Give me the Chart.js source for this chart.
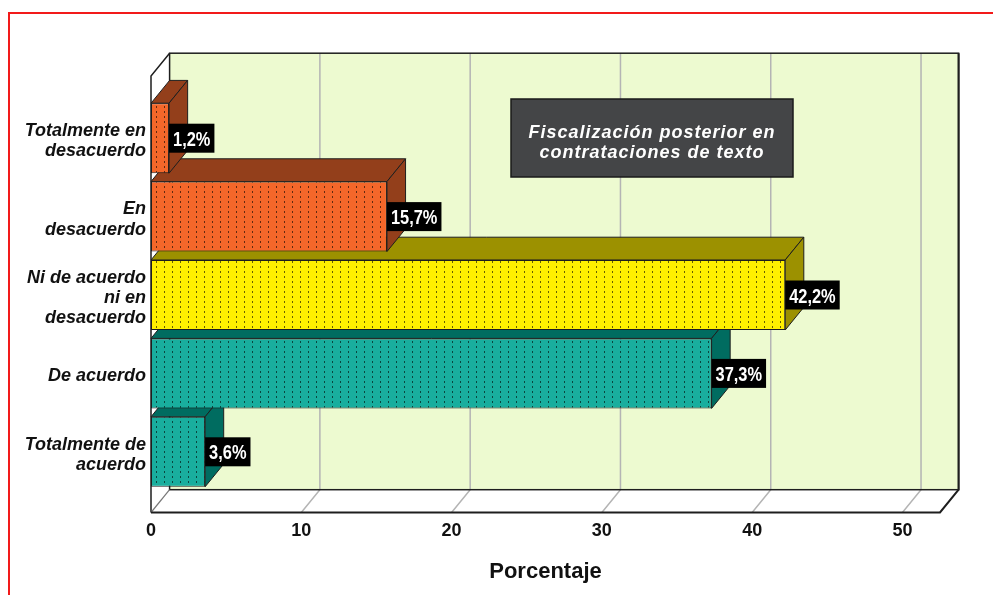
<!DOCTYPE html>
<html>
<head>
<meta charset="utf-8">
<script src="https://cdn.jsdelivr.net/npm/chart.js@4.4.1/dist/chart.umd.min.js"></script>
<style>
  html, body { margin: 0; padding: 0; background: #fff; overflow: hidden; }
  #wrap { position: relative; width: 993px; height: 595px; overflow: hidden; }
  #frame { position: absolute; left: 8px; top: 12px; width: 1100px; height: 700px;
           border: 2px solid #f21a1a; box-sizing: border-box; }
  canvas { position: absolute; left: 0; top: 0; }
</style>
</head>
<body>
<div id="wrap">
  <div id="frame"></div>
  <canvas id="chart" width="993" height="595"></canvas>
</div>
<script>
// Categories (top to bottom) and their percentages
const categories = [
  ['Totalmente en', 'desacuerdo'],
  ['En', 'desacuerdo'],
  ['Ni de acuerdo', 'ni en', 'desacuerdo'],
  ['De acuerdo'],
  ['Totalmente de', 'acuerdo']
];
const values = [1.2, 15.7, 42.2, 37.3, 3.6];
const xTicks = [0, 10, 20, 30, 40, 50];
const xMax = 52.5;
const chartTitle = ['Fiscalización posterior en', 'contrataciones de texto'];
const axisTitle = 'Porcentaje';

// Colours: front faces and the darker top/side faces
const faceColors = ['#F4672A', '#F4672A', '#FFF000', '#19AE9E', '#19AE9E'];
const sideColors = ['#933F1B', '#933F1B', '#9C9100', '#006C60', '#006C60'];
const wallColor = '#EDFAD0';
const gridColor = '#b4b4b4';
const edgeColor = '#1e1e1e';

// Depth of the 3D box (towards the back: right and up)
const depthX = 18.6;
const depthY = 22.8;

const FONT = '"Liberation Sans", Arial, Helvetica, sans-serif';

function fmtPct(v) {
  return v.toFixed(1).replace('.', ',') + '%';
}

const canvas = document.getElementById('chart');
const mainCtx = canvas.getContext('2d');

// Dotted fill used on the front faces
function dottedPattern(base) {
  const c = document.createElement('canvas');
  c.width = 8; c.height = 5;
  const g = c.getContext('2d');
  g.fillStyle = base;
  g.fillRect(0, 0, 8, 5);
  g.fillStyle = 'rgba(0,0,0,0.6)';
  g.fillRect(4, 1, 1, 2);
  return mainCtx.createPattern(c, 'repeat');
}

function poly(ctx, pts, fill, stroke, lw) {
  ctx.beginPath();
  ctx.moveTo(pts[0][0], pts[0][1]);
  for (let i = 1; i < pts.length; i++) ctx.lineTo(pts[i][0], pts[i][1]);
  ctx.closePath();
  if (fill) { ctx.fillStyle = fill; ctx.fill(); }
  if (stroke) { ctx.strokeStyle = stroke; ctx.lineWidth = lw || 1; ctx.stroke(); }
}

function line(ctx, pts, color, lw) {
  ctx.beginPath();
  ctx.moveTo(pts[0][0], pts[0][1]);
  for (let i = 1; i < pts.length; i++) ctx.lineTo(pts[i][0], pts[i][1]);
  ctx.strokeStyle = color;
  ctx.lineWidth = lw;
  ctx.stroke();
}

// Box, walls, floor, grid and the bars' top/side faces
const box3d = {
  id: 'box3d',
  beforeDatasetsDraw(chart) {
    const { ctx, chartArea: a, scales: { x } } = chart;
    const fT = a.top - 23, fB = a.bottom + 21.5, L = a.left, R = a.right;
    ctx.save();
    ctx.lineJoin = 'miter';

    // back wall
    ctx.fillStyle = wallColor;
    ctx.fillRect(L + depthX, fT - depthY, R - L, fB - fT);
    // left wall
    poly(ctx, [[L, fT], [L + depthX, fT - depthY], [L + depthX, fB - depthY], [L, fB]], '#fff');
    // floor
    poly(ctx, [[L, fB], [R, fB], [R + depthX, fB - depthY], [L + depthX, fB - depthY]], '#fff');

    // grid lines on the wall and across the floor
    xTicks.forEach(v => {
      if (v <= 0) return;
      const px = x.getPixelForValue(v);
      line(ctx, [[px + depthX, fT - depthY], [px + depthX, fB - depthY], [px, fB]], gridColor, 1.5);
    });

    // edges
    ctx.strokeStyle = edgeColor;
    ctx.lineWidth = 1.5;
    ctx.strokeRect(L + depthX, fT - depthY, R - L, fB - fT);
    line(ctx, [[L + depthX, fT - depthY], [L, fT], [L, fB]], edgeColor, 1.5);
    line(ctx, [[L + depthX, fB - depthY], [L, fB]], '#777', 1.2);
    line(ctx, [[R + depthX, fT - depthY], [R + depthX, fB - depthY], [R, fB], [L, fB]], edgeColor, 2);

    // top and side faces, lowest bar first so upper bars overlap correctly
    const meta = chart.getDatasetMeta(0);
    for (let i = meta.data.length - 1; i >= 0; i--) {
      const el = meta.data[i];
      const { x: x1, y, base: x0, height } = el.getProps(['x', 'y', 'base', 'height'], true);
      const top = y - height / 2, bot = y + height / 2;
      poly(ctx, [[x0, top], [x0 + depthX, top - depthY], [x1 + depthX, top - depthY], [x1, top]],
        sideColors[i], edgeColor, 1);
      poly(ctx, [[x1, top], [x1 + depthX, top - depthY], [x1 + depthX, bot - depthY], [x1, bot]],
        sideColors[i], edgeColor, 1);
    }
    ctx.restore();
  },
  afterDatasetsDraw(chart) {
    const { ctx, chartArea: a } = chart;
    const meta = chart.getDatasetMeta(0);
    ctx.save();

    // value boxes at the end of each bar
    meta.data.forEach((el, i) => {
      const { x: x1, y } = el.getProps(['x', 'y'], true);
      const text = fmtPct(values[i]);
      const sx = 0.82;
      ctx.font = 'bold 20px ' + FONT;
      const tw = ctx.measureText(text).width * sx;
      const bw = tw + 8, bh = 29;
      ctx.fillStyle = '#000';
      ctx.fillRect(x1, y - bh / 2, bw, bh);
      ctx.save();
      ctx.translate(x1 + 4, y + 7.5);
      ctx.scale(sx, 1);
      ctx.fillStyle = '#fff';
      ctx.textBaseline = 'alphabetic';
      ctx.textAlign = 'left';
      ctx.fillText(text, 0, 0);
      ctx.restore();
    });

    // title panel
    const bx = a.left + 360, by = a.top, bw = 282, bh = 78;
    ctx.fillStyle = '#444547';
    ctx.fillRect(bx, by, bw, bh);
    ctx.strokeStyle = '#1a1a1a';
    ctx.lineWidth = 1.5;
    ctx.strokeRect(bx, by, bw, bh);
    ctx.fillStyle = '#fff';
    ctx.font = 'italic bold 18px ' + FONT;
    if ('letterSpacing' in ctx) ctx.letterSpacing = '1px';
    ctx.textAlign = 'center';
    ctx.textBaseline = 'alphabetic';
    chartTitle.forEach((t, k) => {
      ctx.fillText(t, bx + bw / 2, by + 38.5 + k * 20);
    });
    ctx.restore();
  }
};

new Chart(canvas, {
  type: 'bar',
  data: {
    labels: categories,
    datasets: [{
      data: values,
      backgroundColor: faceColors.map(dottedPattern),
      borderColor: edgeColor,
      borderWidth: 1,
      borderSkipped: false,
      barPercentage: 0.893,
      categoryPercentage: 1
    }]
  },
  options: {
    indexAxis: 'y',
    responsive: false,
    animation: false,
    devicePixelRatio: 1,
    layout: { padding: { top: 99, right: 53, bottom: 0, left: 0 } },
    plugins: { legend: { display: false }, tooltip: { enabled: false } },
    scales: {
      y: {
        type: 'category',
        position: 'left',
        grid: { display: false, drawTicks: false },
        border: { display: false },
        ticks: {
          color: '#111',
          padding: 5,
          labelOffset: 3,
          font: { family: FONT, size: 18, weight: 'bold', style: 'italic', lineHeight: 1.12 }
        },
        afterFit(s) { s.width = 151; }
      },
      x: {
        type: 'linear',
        position: 'bottom',
        min: 0,
        max: xMax,
        grid: { display: false, drawTicks: false },
        border: { display: false },
        afterBuildTicks(s) { s.ticks = xTicks.map(v => ({ value: v })); },
        ticks: {
          color: '#111',
          padding: 29,
          maxRotation: 0,
          font: { family: FONT, size: 18, weight: 'bold' }
        },
        title: {
          display: true,
          text: axisTitle,
          color: '#111',
          padding: { top: 0, bottom: 10 },
          font: { family: FONT, size: 22, weight: 'bold' }
        },
        afterFit(s) { s.height = 104; }
      }
    }
  },
  plugins: [box3d]
});
</script>
</body>
</html>
